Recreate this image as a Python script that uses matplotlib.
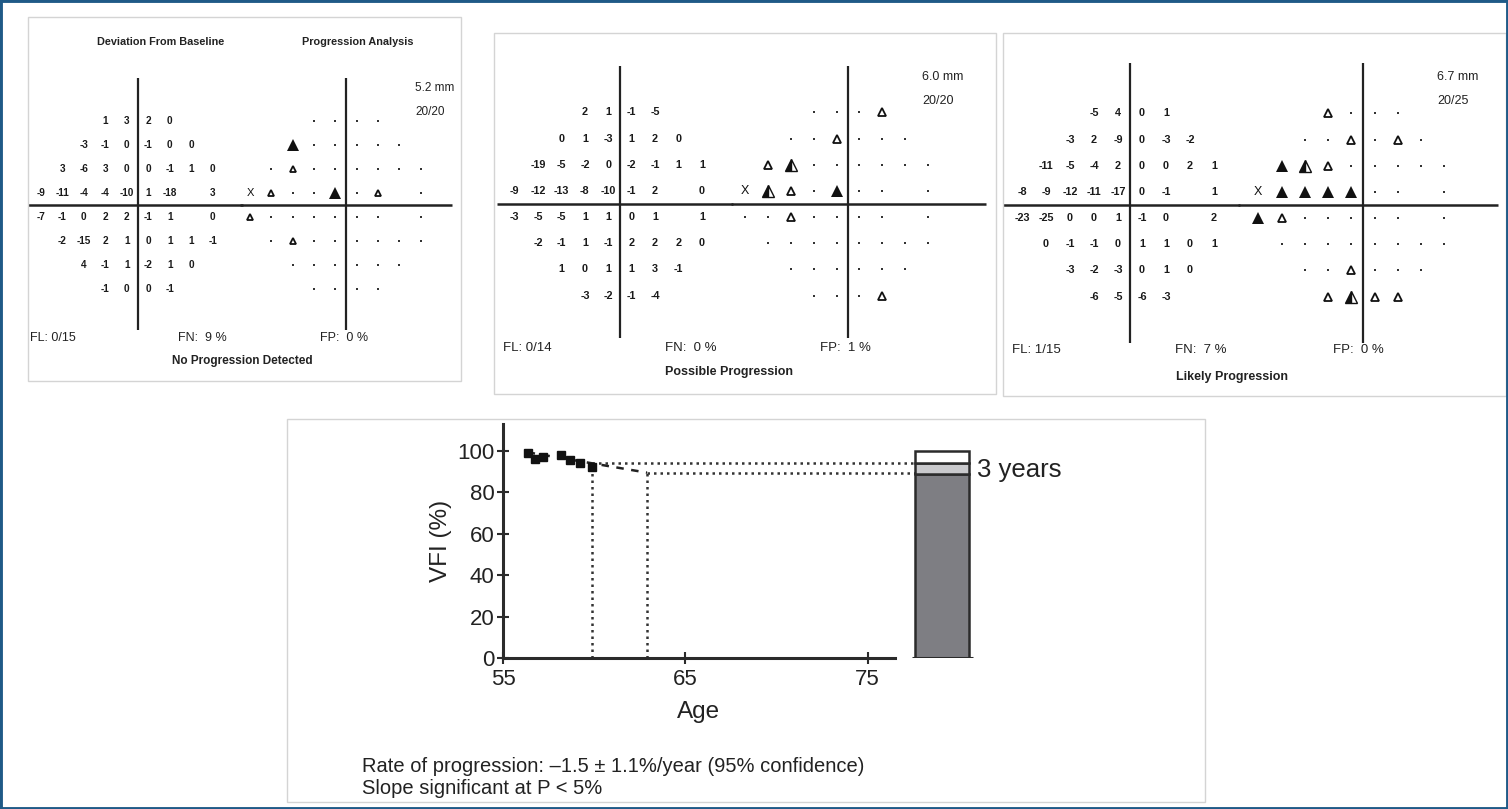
import matplotlib
matplotlib.use('Agg')
import matplotlib.pyplot as plt
from matplotlib.patches import Rectangle

plt.rcParams['font.family'] = ['Liberation Sans', 'DejaVu Sans']

W, H = 1508, 809

# 24-2 test grid: row elevation (deg) and horizontal positions (deg), blind spot left out
row_y = [21, 15, 9, 3, -3, -9, -15, -21]
row_x = [
    [-9, -3, 3, 9],
    [-15, -9, -3, 3, 9, 15],
    [-21, -15, -9, -3, 3, 9, 15, 21],
    [-27, -21, -15, -9, -3, 3, 9, 21],
    [-27, -21, -15, -9, -3, 3, 9, 21],
    [-21, -15, -9, -3, 3, 9, 15, 21],
    [-15, -9, -3, 3, 9, 15],
    [-9, -3, 3, 9],
]

# deviation from baseline (dB), one list per row
dev_1 = [[1, 3, 2, 0], [-3, -1, 0, -1, 0, 0], [3, -6, 3, 0, 0, -1, 1, 0],
         [-9, -11, -4, -4, -10, 1, -18, 3], [-7, -1, 0, 2, 2, -1, 1, 0],
         [-2, -15, 2, 1, 0, 1, 1, -1], [4, -1, 1, -2, 1, 0], [-1, 0, 0, -1]]
dev_2 = [[2, 1, -1, -5], [0, 1, -3, 1, 2, 0], [-19, -5, -2, 0, -2, -1, 1, 1],
         [-9, -12, -13, -8, -10, -1, 2, 0], [-3, -5, -5, 1, 1, 0, 1, 1],
         [-2, -1, 1, -1, 2, 2, 2, 0], [1, 0, 1, 1, 3, -1], [-3, -2, -1, -4]]
dev_3 = [[-5, 4, 0, 1], [-3, 2, -9, 0, -3, -2], [-11, -5, -4, 2, 0, 0, 2, 1],
         [-8, -9, -12, -11, -17, 0, -1, 1], [-23, -25, 0, 0, 1, -1, 0, 2],
         [0, -1, -1, 0, 1, 1, 0, 1], [-3, -2, -3, 0, 1, 0], [-6, -5, -6, -3]]

# progression symbols: . no change, o deterioration once, h twice, f three times, x out of range
prog_1 = ['....', 'f.....', '.o......', 'xo..f.o.', 'o.......', '.o......', '......', '....']
prog_2 = ['...o', '..o...', 'oh......', 'xho.f...', '..o.....', '........', '......', '...o']
prog_3 = ['o...', '..o.o.', 'fho.....', 'xffff...', 'fo......', '........', '..o...', 'ohoo']

pupil = ['5.2 mm', '6.0 mm', '6.7 mm']
acuity = ['20/20', '20/20', '20/25']
fix_loss = ['0/15', '0/14', '1/15']
false_neg = ['9', '0', '7']
false_pos = ['0', '1', '0']
status = ['No Progression Detected', 'Possible Progression', 'Likely Progression']

# VFI trend
ages = [56.35, 56.75, 57.2, 58.2, 58.7, 59.2, 59.9]
vfi = [98.8, 96.2, 97.0, 98.0, 95.5, 94.3, 92.0]
rate = -1.5
vfi_now = 94.0
years_ahead = 3
bar_levels = [88.8, 94.0, 100.0]

fig = plt.figure(figsize=(W / 100, H / 100), dpi=100)


def px_axes(left, top, width, height, **kw):
    return fig.add_axes([left / W, 1 - (top + height) / H, width / W, height / H], **kw)


def fig_text(x, y, s, **kw):
    fig.text(x / W, 1 - y / H, s, **kw)


def frame(left, top, right, bottom, color='#d4d4d4', lw=1.0):
    fig.patches.append(Rectangle((left / W, 1 - bottom / H), (right - left) / W, (bottom - top) / H,
                                 transform=fig.transFigure, fill=False, edgecolor=color, lw=lw))


def grid_axes(cx, cy, sx, sy, span=40):
    ax = px_axes(cx - span * sx, cy - span * sy, 2 * span * sx, 2 * span * sy)
    ax.set_xlim(-span, span)
    ax.set_ylim(-span, span)
    ax.axis('off')
    return ax


def draw_dev(ax, vals, fs):
    for y, xs, row in zip(row_y, row_x, vals):
        for x, v in zip(xs, row):
            ax.text(x, y, str(v), ha='center', va='center', fontsize=fs,
                    fontweight='bold', color='#1a1a1a')


def draw_prog(ax, codes, tri):
    for y, xs, row in zip(row_y, row_x, codes):
        for x, c in zip(xs, row):
            if c == '.':
                ax.plot(x, y, 's', ms=1.8, color='#333333', mew=0)
            elif c == 'o':
                ax.plot(x, y, '^', ms=tri * 0.6, mfc='white', mec='#111111', mew=1.3)
            elif c == 'h':
                ax.plot(x, y, '^', ms=tri, color='#111111', fillstyle='left',
                        markerfacecoloralt='white', mew=1.0)
            elif c == 'f':
                ax.plot(x, y, '^', ms=tri, color='#111111', mew=0)
            elif c == 'x':
                ax.text(x, y, 'X', ha='center', va='center', fontsize=tri, color='#111111')


def cross(ax, cx, cy, sx, sy, v_top, v_bot, h_left, h_right):
    ax.plot([0, 0], [(cy - v_top) / sy, (cy - v_bot) / sy], color='#222222', lw=1.6,
            solid_capstyle='butt')
    ax.plot([(h_left - cx) / sx, (h_right - cx) / sx], [0, 0], color='#222222', lw=1.8,
            solid_capstyle='butt')


# layout of the three printout panels (pixels)
panels = [
    dict(box=(28, 17, 461, 381), dev=(137.5, 205, 3.58, 3.98), prog=(346, 205, 3.55, 3.98),
         v=(78, 330), h_split=243, h=(28, 455), fs=7.2, tri=8, info=(415, 88, 112),
         foot=(30, 178, 320, 338), stat=(172, 361), text_fs=9),
    dict(box=(494, 33, 996, 394), dev=(620, 204, 3.9, 4.36), prog=(848, 204, 3.83, 4.36),
         v=(66, 338), h_split=733, h=(497, 988), fs=7.8, tri=9, info=(922, 77, 101),
         foot=(503, 665, 820, 348), stat=(665, 372), text_fs=9.5),
    dict(box=(1003, 33, 1506, 396), dev=(1130, 205, 4.0, 4.36), prog=(1363, 205, 3.875, 4.36),
         v=(63, 343), h_split=1240, h=(1003, 1500), fs=7.8, tri=9, info=(1437, 77, 101),
         foot=(1012, 1175, 1333, 350), stat=(1176, 377), text_fs=9.5),
]
devs = [dev_1, dev_2, dev_3]
progs = [prog_1, prog_2, prog_3]

for i, p in enumerate(panels):
    frame(*p['box'])
    cx, cy, sx, sy = p['dev']
    ax_d = grid_axes(cx, cy, sx, sy)
    cross(ax_d, cx, cy, sx, sy, p['v'][0], p['v'][1], p['h'][0], p['h_split'])
    draw_dev(ax_d, devs[i], p['fs'])

    px, py, psx, psy = p['prog']
    ax_p = grid_axes(px, py, psx, psy)
    cross(ax_p, px + (3 if i == 0 else 2), py, psx, psy, p['v'][0], p['v'][1], p['h_split'], p['h'][1])
    draw_prog(ax_p, progs[i], p['tri'])

    tfs = p['text_fs']
    ix, iy1, iy2 = p['info']
    fig_text(ix, iy1, pupil[i], ha='left', va='center', fontsize=tfs - 0.5, color='#222222')
    fig_text(ix, iy2, acuity[i], ha='left', va='center', fontsize=tfs - 0.5, color='#222222')
    f1, f2, f3, fy = p['foot']
    fig_text(f1, fy, 'FL: ' + fix_loss[i], ha='left', va='center', fontsize=tfs, color='#222222')
    fig_text(f2, fy, 'FN:  ' + false_neg[i] + ' %', ha='left', va='center', fontsize=tfs,
             color='#222222')
    fig_text(f3, fy, 'FP:  ' + false_pos[i] + ' %', ha='left', va='center', fontsize=tfs,
             color='#222222')
    fig_text(p['stat'][0], p['stat'][1], status[i], ha='left', va='center', fontsize=tfs - 0.5,
             color='#222222', fontweight='bold')

fig_text(161, 42, 'Deviation From Baseline', ha='center', va='center', fontsize=7.8,
         fontweight='bold', color='#222222')
fig_text(358, 42, 'Progression Analysis', ha='center', va='center', fontsize=7.8,
         fontweight='bold', color='#222222')

# ---- VFI trend chart ----
frame(287, 419, 1205, 802)
ax = px_axes(503, 424, 392, 234)
ax.set_xlim(55, 76.5)
ax.set_ylim(0, 113)
for s in ['top', 'right']:
    ax.spines[s].set_visible(False)
for s in ['left', 'bottom']:
    ax.spines[s].set_linewidth(2.2)
    ax.spines[s].set_color('#2b2b2b')
ax.set_xticks([55, 65, 75])
ax.set_yticks([0, 20, 40, 60, 80, 100])
ax.tick_params(direction='inout', length=8, width=1.5, color='#2b2b2b', labelsize=16,
               labelcolor='#222222')
ax.tick_params(axis='y', pad=2)
ax.tick_params(axis='x', pad=4)
ax.set_xlabel('Age', fontsize=17.5, color='#222222', labelpad=8)
ax.set_ylabel('VFI (%)', fontsize=17.5, color='#222222', labelpad=4)

age_now = ages[-1]
age_future = age_now + years_ahead
vfi_future = vfi_now + rate * years_ahead
fit_x = [ages[0], age_future]
fit_y = [vfi_now + rate * (a - age_now) for a in fit_x]
ax.plot(fit_x, fit_y, color='#222222', lw=1.8, ls=(0, (3, 3)), zorder=3)
ax.plot(ages, vfi, 's', ms=5.5, color='#111111', zorder=4)

bar_left_age = 55 + (915 - 503) / 18.25
dot = (0, (1, 1.6))
ax.plot([age_now, bar_left_age], [vfi_now, vfi_now], color='#333333', lw=1.8, ls=dot,
        clip_on=False)
ax.plot([age_future, bar_left_age], [vfi_future, vfi_future], color='#333333', lw=1.8, ls=dot,
        clip_on=False)
ax.plot([age_now, age_now], [0, vfi[-1]], color='#333333', lw=1.8, ls=dot)
ax.plot([age_future, age_future], [0, vfi_future], color='#333333', lw=1.8, ls=dot)

bax = px_axes(905, 424, 80, 234)
bax.set_xlim(0, 1)
bax.set_ylim(0, 113)
bax.axis('off')
bottoms = [0] + bar_levels[:-1]
heights = [b - a for a, b in zip(bottoms, bar_levels)]
bax.bar([0.4625] * 3, heights, bottom=bottoms, width=0.675,
        color=['#7e7e83', '#c9c9cc', 'white'], edgecolor='#2b2b2b', linewidth=1.8)
bax.plot([0.0875, 0.85], [0, 0], color='#2b2b2b', lw=2.2, solid_capstyle='butt')
bax.text(0.9, 90.8, '3 years', ha='left', va='center', fontsize=18.5, color='#222222',
         clip_on=False)

fig_text(362, 767, 'Rate of progression: \u20131.5 \u00b1 1.1%/year (95% confidence)',
         ha='left', va='center', fontsize=14.5, color='#222222')
fig_text(362, 788, 'Slope significant at P < 5%', ha='left', va='center', fontsize=14.5,
         color='#222222')

# outer frame
fig.patches.append(Rectangle((0, 0), 1, 1, transform=fig.transFigure, fill=False,
                             edgecolor='#1f5a87', lw=3.5))

fig.savefig('out.png', dpi=100)
